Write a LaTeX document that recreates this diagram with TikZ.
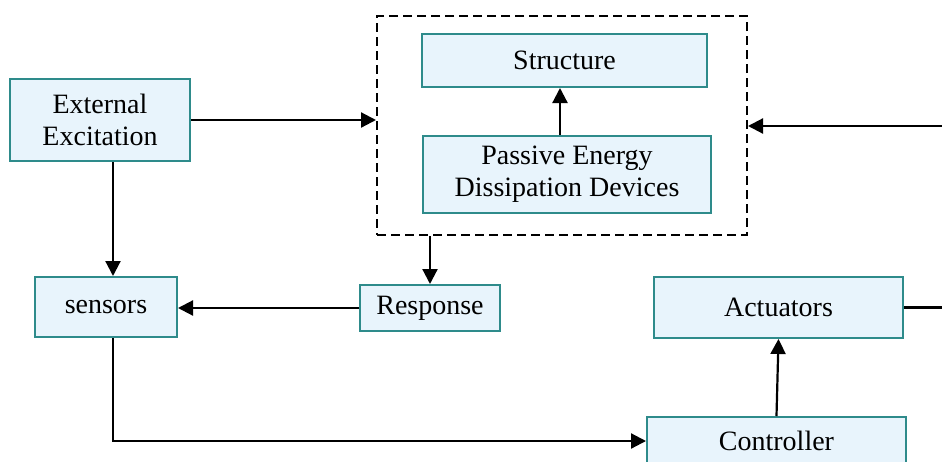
\documentclass[tikz,border=0pt]{standalone}
\usepackage{fontspec}
\setmainfont{Liberation Serif}
\usetikzlibrary{arrows.meta}
\definecolor{boxfill}{RGB}{232,244,252}
\definecolor{boxline}{RGB}{46,139,139}
\begin{document}
\begin{tikzpicture}[x=1pt,y=-1pt,
  blk/.style={draw=boxline,fill=boxfill,line width=2pt,inner sep=0pt,align=center,
    font=\fontsize{28}{32}\selectfont},
  arr/.style={line width=2.2pt,-{Triangle[length=15pt,width=15pt]}},
  ln/.style={line width=2.2pt}]
\useasboundingbox (0,0) rectangle (942,461);
\node[draw,dashed,line width=2pt,dash pattern=on 9pt off 5pt,minimum width=370pt,minimum height=219pt,inner sep=0pt] (dash) at (562,125.5) {};
\node[blk,minimum width=180pt,minimum height=82pt] (ext) at (100,120) {External\\Excitation};
\node[blk,minimum width=285pt,minimum height=53pt] (str) at (564.5,60.5) {Structure};
\node[blk,minimum width=288pt,minimum height=77pt] (ped) at (567,174.5) {Passive Energy\\Dissipation Devices};
\node[blk,minimum width=142pt,minimum height=60pt] (sen) at (106,307) {sensors};
\node[blk,minimum width=140pt,minimum height=46pt] (resp) at (430,308) {Response};
\node[blk,minimum width=249pt,minimum height=61pt] (act) at (778.5,307.5) {Actuators};
\node[blk,minimum width=259pt,minimum height=48pt] (ctrl) at (776.5,441) {Controller};
\coordinate (rin) at (942,126);
\coordinate (rout) at (942,307.5);
\draw[arr] ([xshift=-7pt]ped.north) -- ([xshift=-7pt]ped.north |- str.south);
\draw[arr] (ext.east) -- (ext.east -| dash.west);
\draw[arr] (rin) -- (rin -| dash.east);
\draw[arr] (dash.south -| resp.north) -- (resp.north);
\draw[arr] (resp.west) -- (resp.west -| sen.east);
\draw[arr] ([xshift=13pt]ext.south) -- ([xshift=7pt]sen.north);
\draw[arr] ([xshift=7pt]sen.south) |- (ctrl.west);
\draw[arr] (ctrl.north) -- (act.south);
\draw[ln] (act.east) -- (rout);
\end{tikzpicture}
\end{document}
